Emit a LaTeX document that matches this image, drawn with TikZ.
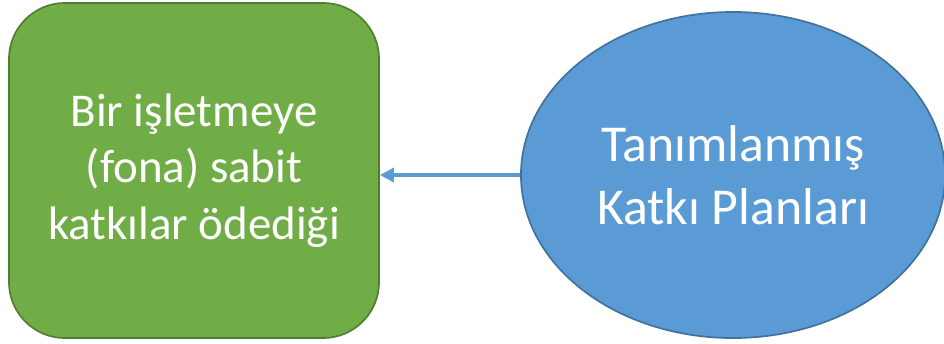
\documentclass[tikz,border=0pt]{standalone}
\usepackage{fontspec}
\setmainfont{Carlito}
\usetikzlibrary{arrows.meta,shapes.geometric}
\definecolor{katkigreen}{HTML}{70AD47}
\definecolor{katkigreendark}{HTML}{507E32}
\definecolor{planblue}{HTML}{5B9BD5}
\definecolor{planbluedark}{HTML}{41719C}
\tikzset{
	firmbox/.style={draw=katkigreendark, fill=katkigreen, line width=1.2pt, rounded corners=1.4cm, minimum width=9.25cm, minimum height=8.375cm, text=white, align=center, font=\fontsize{33.4}{40}\selectfont},
	planoval/.style={ellipse, draw=planbluedark, fill=planblue, line width=1.2pt, minimum width=10.6cm, minimum height=8.15cm, inner sep=0pt, text=white, align=center, font=\fontsize{36.8}{44.5}\selectfont},
	katkiarrow/.style={draw=planblue, line width=2.4pt, -{Triangle[length=10pt,width=10pt]}}
}
\begin{document}
\begin{tikzpicture}[x=0.025cm, y=-0.025cm]
			%%%%% START %%%%%
			
			\useasboundingbox (0, 0) rectangle (944, 343);
			
			\node[firmbox] (firm) at (194, 170.5) {Bir işletmeye\\(fona) sabit\\katkılar ödediği};
			
			\node[planoval] (plan) at (733, 175) {Tanımlanmış\\Katkı Planları};
			
			\draw[katkiarrow] (plan.west) -- (plan.west -| firm.east);
			
			%%%%% END %%%%%
		\end{tikzpicture}
\end{document}
